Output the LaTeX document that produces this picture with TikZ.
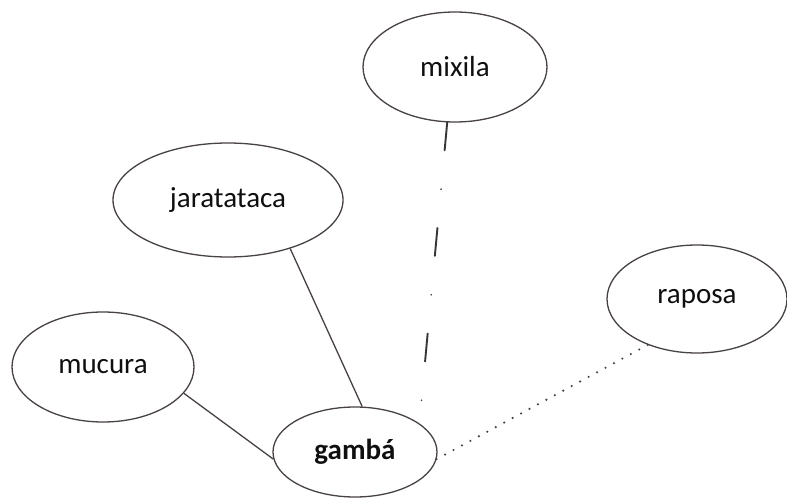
\documentclass[tikz,border=0pt]{standalone}
\usepackage{fontspec}
\setmainfont{Carlito}
\usetikzlibrary{shapes.geometric}
\definecolor{strk}{RGB}{72,66,66}
\definecolor{txt}{RGB}{15,15,15}
\tikzset{
  animal/.style={ellipse, draw=strk, line width=1.3pt, inner sep=0pt,
    text=txt, font=\fontsize{29}{34}\selectfont},
  link/.style={draw=strk, line width=1.3pt},
  dotlink/.style={draw=strk, line width=2.4pt, line cap=round, dash pattern=on 0pt off 9.6pt},
  dashlink/.style={draw=strk!80!black, line width=1.9pt, line cap=round, dash pattern=on 28pt off 39pt on 0pt off 39pt},
}
\begin{document}
\begin{tikzpicture}[x=1pt,y=-1pt]
\useasboundingbox[fill=white] (0,0) rectangle (787,500);
\node[animal, minimum width=184pt, minimum height=110pt] (mixila) at (455,67) {mixila};
\node[animal, minimum width=230pt, minimum height=114pt] (jara) at (228,200) {jaratataca};
\node[animal, minimum width=182pt, minimum height=110pt] (mucura) at (103,367) {mucura};
\node[animal, minimum width=164pt, minimum height=90pt, font=\fontsize{29}{34}\selectfont\bfseries] (gamba) at (355,452) {gambá};
\node[animal, minimum width=180pt, minimum height=108pt] (raposa) at (697,299) {raposa};
\draw[link] (mucura.-18) -- (gamba.185);
\draw[link] (jara.-38) -- (gamba.81);
\draw[dashlink] (mixila.-98) -- (gamba.24);
\draw[dotlink] (gamba.-5) -- (raposa.223);
\end{tikzpicture}
\end{document}
